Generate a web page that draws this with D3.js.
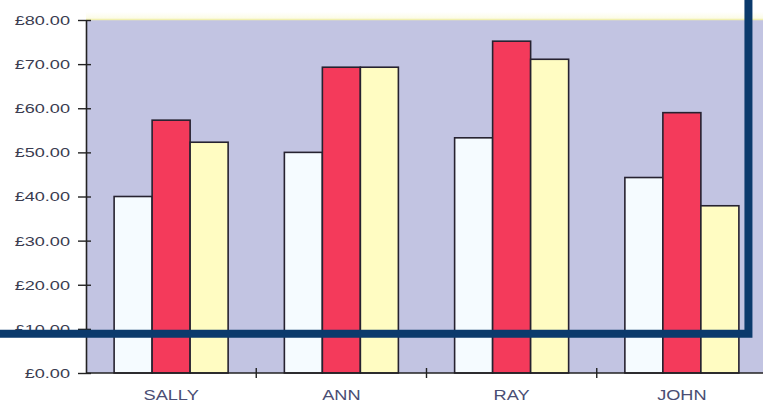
<!DOCTYPE html>
<html>
<head>
<meta charset="utf-8">
<script src="https://cdn.jsdelivr.net/npm/d3@7"></script>
<style>
  html, body { margin: 0; padding: 0; background: #ffffff; }
  svg { display: block; }
</style>
</head>
<body>
<svg id="chart" width="763" height="404"></svg>
<script>
// Sales per person, three figures each (GBP)
const categories = ["SALLY", "ANN", "RAY", "JOHN"];
const seriesNames = ["First", "Second", "Third"];
const firstValues  = [40.0, 50.0, 53.3, 44.3];
const secondValues = [57.3, 69.3, 75.2, 59.0];
const thirdValues  = [52.3, 69.3, 71.1, 37.9];
const yTicks = [0, 10, 20, 30, 40, 50, 60, 70, 80];

const seriesValues = [firstValues, secondValues, thirdValues];
const seriesColors = ["#f5fbff", "#f43a5b", "#fffcc2"];

const W = 763, H = 404;
const plot = { left: 86, top: 20, right: 767, bottom: 373 };

const svg = d3.select("#chart");

const x = d3.scaleBand()
  .domain(categories)
  .range([plot.left, plot.right])
  .paddingInner(0)
  .paddingOuter(0);

const inner = d3.scaleBand()
  .domain(seriesNames)
  .range([0, x.bandwidth()])
  .paddingOuter(0.74)
  .paddingInner(0);

const y = d3.scaleLinear()
  .domain([0, 80])
  .range([plot.bottom, plot.top]);

// faint warm glow just above the plot area
const defs = svg.append("defs");
const glow = defs.append("linearGradient").attr("id", "glow")
  .attr("x1", 0).attr("y1", 0).attr("x2", 0).attr("y2", 1);
glow.append("stop").attr("offset", "0%").attr("stop-color", "#ffffff");
glow.append("stop").attr("offset", "60%").attr("stop-color", "#ffffff");
glow.append("stop").attr("offset", "100%").attr("stop-color", "#fafae0");
svg.append("rect").attr("x", plot.left).attr("y", 0)
  .attr("width", W - plot.left).attr("height", plot.top)
  .attr("fill", "url(#glow)");

// plot background
svg.append("rect")
  .attr("x", plot.left).attr("y", plot.top)
  .attr("width", plot.right - plot.left).attr("height", plot.bottom - plot.top)
  .attr("fill", "#c2c4e2");

// pale edge along the top of the plot
svg.append("line")
  .attr("x1", plot.left).attr("x2", W)
  .attr("y1", plot.top - 0.5).attr("y2", plot.top - 0.5)
  .attr("stroke", "#f1f0b0").attr("stroke-width", 1.5);

// bars
const groups = svg.append("g").selectAll("g")
  .data(categories)
  .join("g")
  .attr("transform", d => `translate(${x(d)},0)`);

groups.selectAll("rect")
  .data((c, ci) => seriesNames.map((s, si) => ({ s, si, v: seriesValues[si][ci] })))
  .join("rect")
  .attr("x", d => inner(d.s))
  .attr("width", inner.bandwidth())
  .attr("y", d => y(d.v))
  .attr("height", d => y(0) - y(d.v))
  .attr("fill", d => seriesColors[d.si])
  .attr("stroke", "#262230")
  .attr("stroke-width", 1.6);

// y axis
const yAxis = d3.axisLeft(y)
  .tickValues(yTicks)
  .tickSize(0)
  .tickFormat(d => "£" + d3.format(".2f")(d));

const yg = svg.append("g")
  .attr("transform", `translate(${plot.left},0)`)
  .call(yAxis);
yg.select(".domain").attr("stroke", "#222").attr("stroke-width", 1.6);
yg.selectAll(".tick line").remove();
yg.selectAll(".tick").append("line")
  .attr("x1", -8).attr("x2", 5)
  .attr("stroke", "#222").attr("stroke-width", 1.4);
yg.selectAll(".tick text")
  .attr("x", 0)
  .attr("text-anchor", "end")
  .attr("dy", "0.35em")
  .attr("transform", "translate(-16,0) scale(1.45,1)")
  .attr("fill", "#3a3c50")
  .style("font-family", "Liberation Sans, Arial, sans-serif")
  .style("font-size", "12.5px");

// x axis
const xAxis = d3.axisBottom(x).tickSize(0).tickSizeOuter(0);
const xg = svg.append("g")
  .attr("transform", `translate(0,${plot.bottom})`)
  .call(xAxis);
xg.select(".domain").attr("stroke", "#222").attr("stroke-width", 1.6)
  .attr("d", `M${plot.left},0H${W}`);
xg.selectAll(".tick text")
  .attr("y", 0)
  .attr("dy", 0)
  .attr("transform", "translate(0,27) scale(1.3,1)")
  .attr("fill", "#4a4e74")
  .style("font-family", "Liberation Sans, Arial, sans-serif")
  .style("font-size", "14px");

// category separator ticks
svg.append("g").selectAll("line")
  .data(categories.slice(1))
  .join("line")
  .attr("x1", d => x(d)).attr("x2", d => x(d))
  .attr("y1", plot.bottom - 5).attr("y2", plot.bottom + 5)
  .attr("stroke", "#222").attr("stroke-width", 1.4);

// highlight frame over the lower-left part of the chart
const frameRight = x("JOHN") + x.bandwidth() * 0.891;
const frameY = y(8.9);
svg.append("path")
  .attr("d", `M0,${frameY}H${frameRight}V0`)
  .attr("fill", "none")
  .attr("stroke", "#0b3a6c")
  .attr("stroke-width", 8)
  .attr("stroke-linejoin", "miter");
</script>
</body>
</html>
